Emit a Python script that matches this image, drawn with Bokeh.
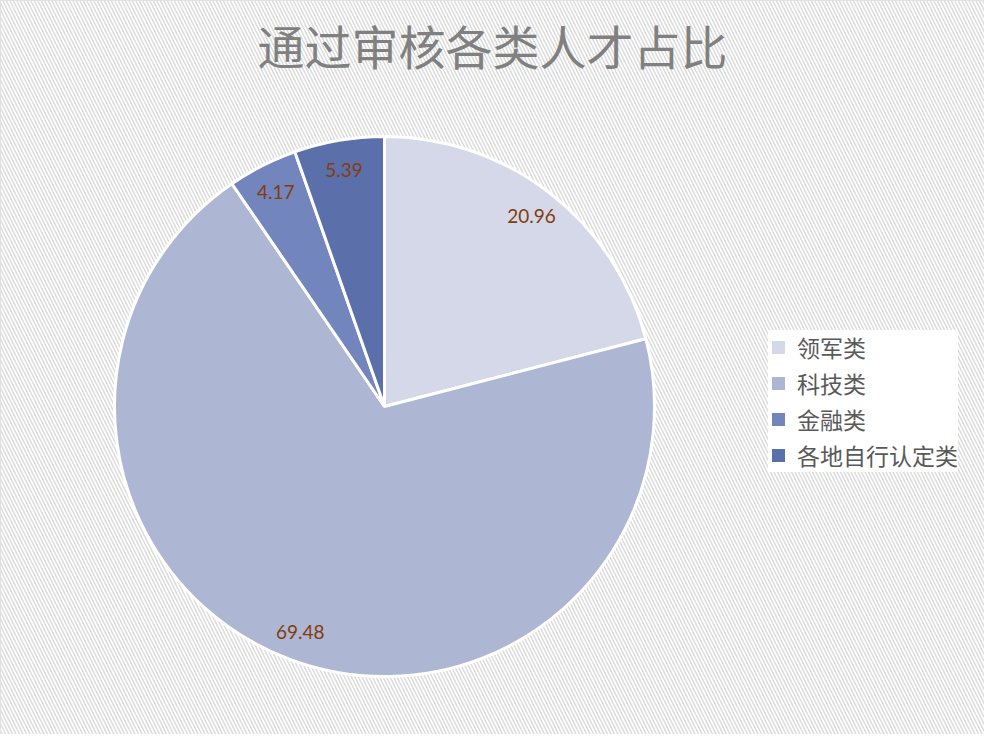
import numpy as np

from bokeh.core.properties import value
from bokeh.embed import file_html
from bokeh.models import BoxAnnotation, ColumnDataSource, Label, Range1d
from bokeh.plotting import figure
from bokeh.resources import INLINE

title = "通过审核各类人才占比"
categories = ["领军类", "科技类", "金融类", "各地自行认定类"]
shares = [20.96, 69.48, 4.17, 5.39]
colors = ["#d4d8e8", "#adb6d3", "#7385bd", "#5b70ab"]

W, H = 984, 734
cx, cy, r = 384, 328, 270

frac = np.array(shares) / sum(shares)
cum = np.concatenate([[0], np.cumsum(frac)])
start = np.pi / 2 - cum[:-1] * 2 * np.pi
end = np.pi / 2 - cum[1:] * 2 * np.pi
mid = (start + end) / 2

source = ColumnDataSource(data=dict(
    name=categories,
    share=shares,
    label=[f"{v:.2f}" for v in shares],
    start=start,
    end=end,
    color=colors,
    lx=cx + 0.89 * r * np.cos(mid),
    ly=cy + 0.89 * r * np.sin(mid),
))

p = figure(
    width=W,
    height=H,
    x_range=Range1d(0, W),
    y_range=Range1d(0, H),
    x_axis_type=None,
    y_axis_type=None,
    toolbar_location=None,
    output_backend="svg",
    min_border=0,
    background_fill_color="white",
    border_fill_color="white",
)
p.grid.visible = False
p.outline_line_color = "#d9d9d9"
p.outline_line_width = 1

# striped backdrop
p.add_layout(BoxAnnotation(
    fill_color="white",
    fill_alpha=1,
    line_color=None,
    hatch_pattern="\\",
    hatch_color="#dcdcdc",
    hatch_scale=7,
    hatch_weight=1.5,
    level="underlay",
))

pie = p.wedge(
    x=cx, y=cy, radius=r,
    start_angle="start", end_angle="end", direction="clock",
    fill_color="color", line_color="white", line_width=3,
    legend_field="name", source=source,
)

p.text(
    x="lx", y="ly", text="label", source=source,
    text_color="#843c0c", text_font=value("Lato"), text_font_size="19px",
    text_align="center", text_baseline="middle",
)

p.add_layout(Label(
    x=W / 2, y=H - 44, text=title,
    text_font="Noto Sans CJK SC", text_font_size="47px",
    text_color="#808080", text_align="center", text_baseline="middle",
))

legend = p.legend[0]
legend.location = (768, 262)
legend.background_fill_color = "white"
legend.background_fill_alpha = 1
legend.border_line_color = None
legend.label_text_font = "Noto Sans CJK SC"
legend.label_text_font_size = "23px"
legend.label_text_color = "#595959"
legend.glyph_width = 20
legend.glyph_height = 20
legend.label_height = 20
legend.spacing = 2
legend.padding = 8
legend.margin = 0
legend.label_standoff = 9

open("out.html", "w").write(file_html(p, INLINE))
